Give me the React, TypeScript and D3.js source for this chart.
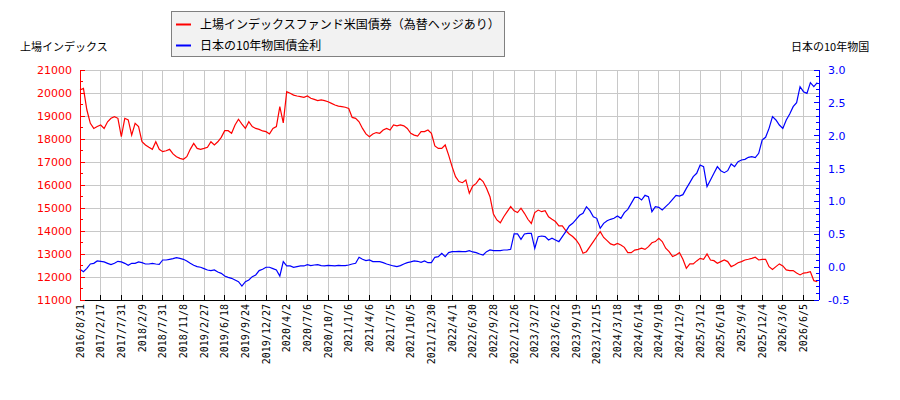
import React from "react";
import * as d3 from "d3";

const dateLabels = [
  "2016/8/31","2017/2/17","2017/7/31","2018/2/9","2018/7/31","2018/11/8",
  "2019/2/27","2019/6/18","2019/9/24","2019/12/27","2020/4/2","2020/7/6",
  "2020/10/7","2021/1/6","2021/4/6","2021/7/5","2021/10/5","2021/12/30",
  "2022/4/1","2022/6/30","2022/9/28","2022/12/26","2023/3/27","2023/6/22",
  "2023/9/19","2023/12/15","2024/3/18","2024/6/14","2024/9/10","2024/12/9",
  "2025/3/12","2025/6/10","2025/9/4","2025/12/4","2026/3/6","2026/6/5",
];
// samples between two labelled dates
const samplesPerLabel = 6;

const fundValues = [
  20130, 20200, 19260, 18680, 18460, 18540, 18610, 18460, 18750, 18900,
  18970, 18900, 18100, 18900, 18830, 18170, 18680, 18540, 17880, 17740,
  17640, 17550, 17880, 17550, 17450, 17490, 17550, 17350, 17230, 17160,
  17120, 17230, 17550, 17810, 17590, 17550, 17590, 17640, 17880, 17740,
  17880, 18070, 18360, 18360, 18250, 18610, 18860, 18650, 18460, 18750,
  18540, 18460, 18420, 18350, 18320, 18220, 18460, 18540, 19410, 18700,
  20060, 19990, 19910, 19870, 19840, 19810, 19870, 19770, 19720, 19670,
  19700, 19670, 19620, 19550, 19480, 19430, 19410, 19380, 19330, 18940,
  18900, 18750, 18460, 18220, 18100, 18220, 18280, 18250, 18390, 18460,
  18390, 18610, 18570, 18610, 18570, 18460, 18250, 18170, 18130, 18320,
  18320, 18390, 18250, 17700, 17590, 17590, 17740, 17300, 16800, 16360,
  16150, 16100, 16220, 15640, 15960, 16070, 16290, 16150, 15860, 15490,
  14740, 14480, 14360, 14620, 14840, 15060, 14880, 14800, 14990, 14770,
  14510, 14330, 14800, 14910, 14840, 14880, 14620, 14510, 14410, 14220,
  14220, 14020, 13870, 13760, 13610, 13390, 13030, 13100, 13320, 13540,
  13760, 13970, 13720, 13580, 13440, 13390, 13460, 13390, 13290, 13060,
  13060, 13170, 13200, 13250, 13200, 13320, 13490, 13540, 13680, 13540,
  13250, 13100, 12890, 12960, 13060, 12770, 12380, 12570, 12570, 12700,
  12810, 12770, 13000, 12740, 12710, 12600, 12670, 12740, 12670, 12450,
  12520, 12620, 12670, 12740, 12770, 12810, 12860, 12740, 12770, 12770,
  12450, 12330, 12450, 12570, 12480, 12310, 12280, 12280, 12170, 12090,
  12170, 12190, 12230, 11840, 11800,
];

const jgbValues = [
  -0.033, -0.069, -0.018, 0.048, 0.058, 0.094, 0.089, 0.079, 0.058, 0.038,
  0.058, 0.089, 0.079, 0.058, 0.028, 0.058, 0.058, 0.079, 0.068, 0.048,
  0.048, 0.058, 0.048, 0.043, 0.109, 0.109, 0.119, 0.129, 0.145, 0.134,
  0.119, 0.094, 0.058, 0.028, 0.008, -0.002, -0.023, -0.043, -0.053, -0.043,
  -0.074, -0.094, -0.135, -0.155, -0.170, -0.196, -0.221, -0.287, -0.221, -0.196,
  -0.145, -0.119, -0.053, -0.033, -0.002, -0.002, -0.023, -0.043, -0.135, 0.084,
  0.018, 0.018, -0.002, 0.008, 0.018, 0.018, 0.038, 0.023, 0.033, 0.038,
  0.023, 0.018, 0.028, 0.023, 0.018, 0.028, 0.023, 0.023, 0.033, 0.048,
  0.058, 0.150, 0.119, 0.099, 0.109, 0.084, 0.084, 0.084, 0.068, 0.048,
  0.033, 0.018, 0.008, 0.023, 0.048, 0.068, 0.079, 0.094, 0.089, 0.074,
  0.094, 0.068, 0.068, 0.150, 0.160, 0.210, 0.160, 0.221, 0.236, 0.236,
  0.241, 0.236, 0.236, 0.251, 0.231, 0.221, 0.200, 0.185, 0.236, 0.261,
  0.251, 0.251, 0.251, 0.261, 0.261, 0.271, 0.505, 0.505, 0.423, 0.505,
  0.515, 0.515, 0.287, 0.464, 0.474, 0.464, 0.413, 0.439, 0.413, 0.388,
  0.464, 0.540, 0.626, 0.667, 0.728, 0.789, 0.819, 0.920, 0.860, 0.768,
  0.743, 0.591, 0.667, 0.707, 0.728, 0.743, 0.778, 0.743, 0.829, 0.880,
  0.971, 1.062, 1.062, 1.022, 1.093, 1.073, 0.844, 0.920, 0.910, 0.870,
  0.920, 0.971, 1.032, 1.093, 1.082, 1.103, 1.199, 1.286, 1.377, 1.428,
  1.554, 1.529, 1.225, 1.326, 1.428, 1.529, 1.468, 1.438, 1.468, 1.570,
  1.529, 1.605, 1.631, 1.641, 1.671, 1.681, 1.666, 1.732, 1.935, 1.976,
  2.112, 2.290, 2.239, 2.163, 2.112, 2.239, 2.330, 2.442, 2.503, 2.746,
  2.670, 2.645, 2.807, 2.746, 2.807,
];

const leftTicks = [11000, 12000, 13000, 14000, 15000, 16000, 17000, 18000, 19000, 20000, 21000];
const rightTicks = [-0.5, 0.0, 0.5, 1.0, 1.5, 2.0, 2.5, 3.0];

const seriesNames = ["上場インデックスファンド米国債券（為替ヘッジあり）", "日本の10年物国債金利"];
const leftTitle = "上場インデックス";
const rightTitle = "日本の10年物国";

const W = 900, H = 400;
const L = 80, R = 819, T = 70, B = 300;
const RED = "#ff0000", BLUE = "#0000ff", GRID = "#c8c8c8";
const JP = "'Noto Sans CJK JP', 'DejaVu Sans', sans-serif";
const NUM = "'DejaVu Sans', sans-serif";

export default function App() {
  const n = fundValues.length;
  const x = d3.scaleLinear().domain([0, n - 0.5]).range([L, R]);
  const yL = d3.scaleLinear().domain([11000, 21000]).range([B, T]);
  const yR = d3.scaleLinear().domain([-0.5, 3.0]).range([B, T]);

  const redPath = d3.line<number>().x((_, i) => x(i)).y((d) => yL(d))(fundValues) || "";
  const bluePath = d3.line<number>().x((_, i) => x(i)).y((d) => yR(d))(jgbValues) || "";

  const xTicks = dateLabels.map((lab, i) => ({ lab, k: i * samplesPerLabel }));
  const leftMinor = d3.range(11500, 21000, 1000);
  const rightMinor = d3.range(-5, 31).map((v) => v / 10).filter((v) => Math.abs(v * 2 - Math.round(v * 2)) > 1e-6);

  return (
    <svg width={W} height={H} style={{ position: "absolute", left: 0, top: 0, background: "#fff" }}>
      {/* grid */}
      {leftTicks.map((v) => (
        <line key={"gh" + v} x1={L} x2={R} y1={yL(v)} y2={yL(v)} stroke={GRID} strokeWidth={1} shapeRendering="crispEdges" />
      ))}
      {xTicks.map((t) => (
        <line key={"gv" + t.k} x1={x(t.k)} x2={x(t.k)} y1={T} y2={B} stroke={GRID} strokeWidth={1} shapeRendering="crispEdges" />
      ))}

      {/* series */}
      <path d={redPath} fill="none" stroke={RED} strokeWidth={1.2} strokeLinejoin="miter" />
      <path d={bluePath} fill="none" stroke={BLUE} strokeWidth={1.2} strokeLinejoin="miter" />

      {/* x axis */}
      <line x1={L} x2={R} y1={B} y2={B} stroke="#000" strokeWidth={1} shapeRendering="crispEdges" />
      {xTicks.map((t) => (
        <g key={"xt" + t.k}>
          <line x1={x(t.k)} x2={x(t.k)} y1={B} y2={B - 5} stroke="#000" strokeWidth={1} shapeRendering="crispEdges" />
          <text
            transform={`translate(${x(t.k) + 3.5},${B + 4}) rotate(-90)`}
            textAnchor="end"
            fontFamily="'DejaVu Sans Mono', monospace"
            fontSize={10}
            fill="#000"
          >
            {t.lab}
          </text>
        </g>
      ))}

      {/* left axis */}
      <line x1={L} x2={L} y1={T} y2={B} stroke={RED} strokeWidth={1} shapeRendering="crispEdges" />
      {leftTicks.map((v) => (
        <g key={"lt" + v}>
          <line x1={L} x2={L + 5} y1={yL(v)} y2={yL(v)} stroke={RED} shapeRendering="crispEdges" />
          <text x={72} y={yL(v) + 4} textAnchor="end" fontFamily={NUM} fontSize={11} fill={RED}>
            {v}
          </text>
        </g>
      ))}
      {leftMinor.map((v) => (
        <line key={"lm" + v} x1={L} x2={L + 3} y1={yL(v)} y2={yL(v)} stroke={RED} shapeRendering="crispEdges" />
      ))}

      {/* right axis */}
      <line x1={R} x2={R} y1={T} y2={B} stroke={BLUE} strokeWidth={1} shapeRendering="crispEdges" />
      {rightTicks.map((v) => (
        <g key={"rt" + v}>
          <line x1={R} x2={R - 5} y1={yR(v)} y2={yR(v)} stroke={BLUE} shapeRendering="crispEdges" />
          <text x={828} y={yR(v) + 4} textAnchor="start" fontFamily={NUM} fontSize={11} fill={BLUE}>
            {v.toFixed(1)}
          </text>
        </g>
      ))}
      {rightMinor.map((v) => (
        <line key={"rm" + v} x1={R} x2={R - 3} y1={yR(v)} y2={yR(v)} stroke={BLUE} shapeRendering="crispEdges" />
      ))}

      {/* axis titles */}
      <text x={20} y={51} fontFamily={JP} fontSize={11} fill="#000">{leftTitle}</text>
      <text x={791} y={51} fontFamily={JP} fontSize={11} fill="#000">{rightTitle}</text>

      {/* legend */}
      <rect x={171.5} y={11.5} width={333} height={45} fill="#f2f2f2" stroke="#808080" strokeWidth={1} />
      <line x1={176} x2={191} y1={24.5} y2={24.5} stroke={RED} strokeWidth={2} />
      <text x={200} y={29} fontFamily={JP} fontSize={12} fill="#000">{seriesNames[0]}</text>
      <line x1={176} x2={191} y1={45.5} y2={45.5} stroke={BLUE} strokeWidth={2} />
      <text x={200} y={50} fontFamily={JP} fontSize={12} fill="#000">{seriesNames[1]}</text>
    </svg>
  );
}
